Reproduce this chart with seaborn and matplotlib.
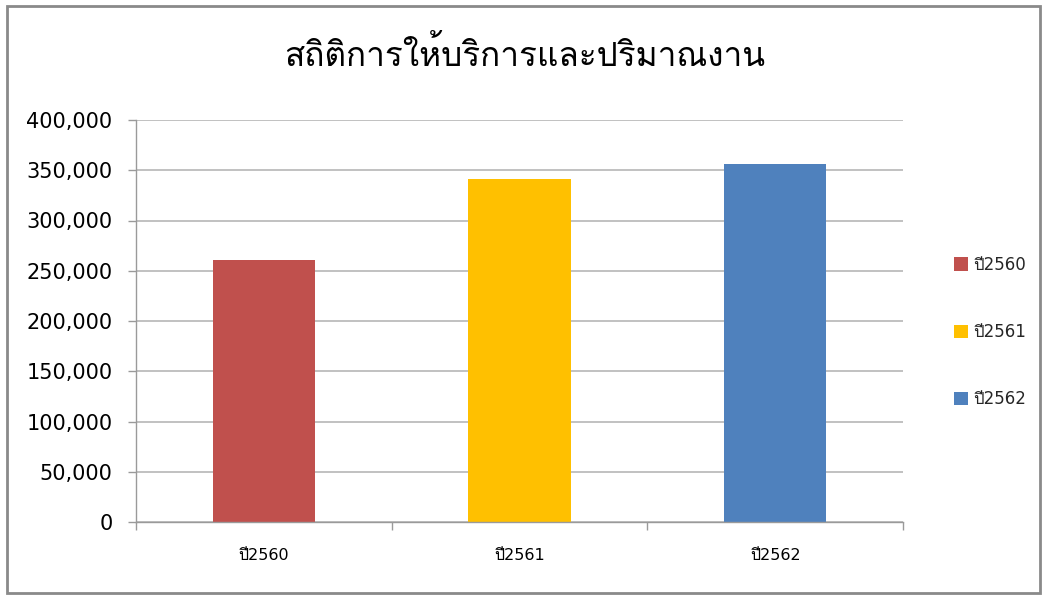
import matplotlib
matplotlib.use("Agg")
import matplotlib.pyplot as plt
import matplotlib.ticker as mticker
from matplotlib.patches import Rectangle
import seaborn as sns
import pandas as pd

title = "สถิติการให้บริการและปริมาณงาน"
categories = ["ปี2560", "ปี2561", "ปี2562"]
values = [261000, 341000, 356500]
colors = ["#C0504D", "#FFC000", "#4F81BD"]
yticks = [0, 50000, 100000, 150000, 200000, 250000, 300000, 350000, 400000]

sns.set_style("white")
plt.rcParams['font.family'] = ['DejaVu Sans', 'Loma']

df = pd.DataFrame({"cat": categories, "val": values})

fig = plt.figure(figsize=(10.46, 5.96), dpi=100)
ax = fig.add_axes([136/1046, 1-522/596, (903-136)/1046, (522-120)/596])

sns.barplot(data=df, x="cat", y="val", hue="cat", palette=colors,
            width=0.4, ax=ax, legend=True, saturation=1, edgecolor="none")

ax.set_xlim(-0.5, 2.5)
ax.set_ylim(0, 400000)
ax.set_yticks(yticks)
ax.yaxis.set_major_formatter(mticker.FuncFormatter(lambda v, p: f"{int(v):,}"))
ax.set_xlabel("")
ax.set_ylabel("")

ax.yaxis.grid(True, color="#b0b0b0", linewidth=1.1)
ax.set_axisbelow(True)
for s in ["top", "right"]:
    ax.spines[s].set_visible(False)
for s in ["left", "bottom"]:
    ax.spines[s].set_color("#9a9a9a")
    ax.spines[s].set_linewidth(1.0)

ax.tick_params(axis="y", which="major", left=True, length=6, width=1, color="#9a9a9a",
               direction="out", pad=11, labelsize=15, labelcolor="#000000")

ax.set_xticks([-0.5, 0.5, 1.5, 2.5], minor=True)
ax.tick_params(axis="x", which="minor", bottom=True, length=6, width=1, color="#9a9a9a",
               direction="out")
ax.tick_params(axis="x", which="major", bottom=True, length=0, pad=19, labelsize=11.5,
               labelcolor="#000000")

leg = ax.legend(loc="center left", bbox_to_anchor=(954/1046, 1-332/596),
                bbox_transform=fig.transFigure, frameon=False, fontsize=12,
                handlelength=0.85, handleheight=0.85, handletextpad=0.3,
                labelspacing=2.95, borderpad=0, borderaxespad=0)

fig.text(525/1046, 1-55/596, title, ha="center", va="center", fontsize=24,
         family=["Loma", "DejaVu Sans"], color="#000000")

fig.patches.append(Rectangle((7/1046, 3/596), (1040-7)/1046, (590-3)/596,
                             transform=fig.transFigure, fill=False,
                             edgecolor="#8a8a8a", linewidth=2))

fig.savefig("out.png", dpi=100)
